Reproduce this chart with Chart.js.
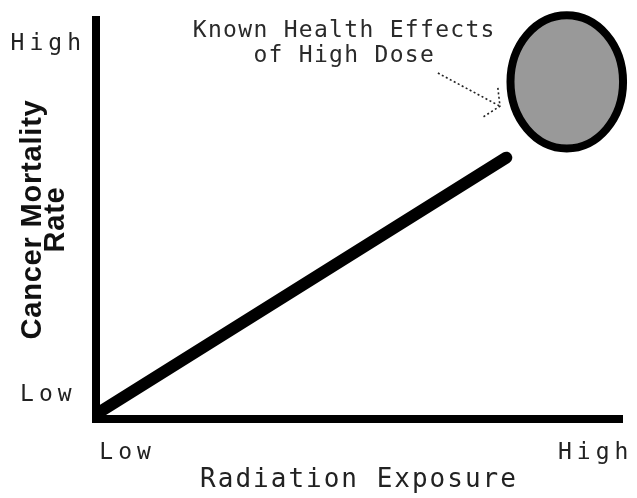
<!DOCTYPE html>
<html>
<head>
<meta charset="utf-8">
<script src="https://cdn.jsdelivr.net/npm/chart.js@4"></script>
<style>
  html, body { margin: 0; padding: 0; background: #fff; }
  canvas { display: block; }
</style>
</head>
<body>
<canvas id="chart" width="637" height="498"></canvas>
<script>
// exposure vs mortality, relative units 0..100
const exposure = [1, 78];
const mortality = [2, 65.5];

// high dose region: centre and half-spread
const highDoseCenter = [89.5, 84.5];
const highDoseSpread = [10.7, 16.7];

const xTickValues = [6, 95];
const xTickLabels = ['Low', 'High'];
const yTickValues = [6, 94];
const yTickLabels = ['Low', 'High'];

const noteLines = ['Known Health Effects', 'of High Dose'];
const noteAnchor = [47.2, 97.3];
const notePointer = [[65, 86.7], [76.8, 78.4]];
const noteHead = [[76.4, 83], [76.8, 78.4], [73.6, 75.7]];

const mono = 'DejaVu Sans Mono';

// the old figure uses wide letter spacing, canvas can do that
const spacing = {
  id: 'spacing',
  beforeDraw(chart) {
    chart.ctx.letterSpacing = '0.8px'; // y title
  },
  afterDraw(chart) {
    chart.ctx.letterSpacing = '0px';
  }
};

const overlay = {
  id: 'overlay',
  afterDatasetsDraw(chart) {
    const { ctx, scales: { x, y } } = chart;
    ctx.save();

    // high dose ellipse
    const cx = x.getPixelForValue(highDoseCenter[0]);
    const cy = y.getPixelForValue(highDoseCenter[1]);
    const rx = x.getPixelForValue(highDoseCenter[0] + highDoseSpread[0]) - cx;
    const ry = cy - y.getPixelForValue(highDoseCenter[1] + highDoseSpread[1]);
    ctx.beginPath();
    ctx.ellipse(cx, cy, rx, ry, 0, 0, Math.PI * 2);
    ctx.fillStyle = '#999999';
    ctx.fill();
    ctx.lineWidth = 8;
    ctx.strokeStyle = '#000';
    ctx.stroke();

    // dotted pointer
    ctx.setLineDash([2, 2.5]);
    ctx.lineWidth = 1.6;
    ctx.strokeStyle = '#222';
    ctx.beginPath();
    ctx.moveTo(x.getPixelForValue(notePointer[0][0]), y.getPixelForValue(notePointer[0][1]));
    ctx.lineTo(x.getPixelForValue(notePointer[1][0]), y.getPixelForValue(notePointer[1][1]));
    ctx.stroke();
    ctx.beginPath();
    noteHead.forEach((p, i) => {
      const px = x.getPixelForValue(p[0]), py = y.getPixelForValue(p[1]);
      if (i === 0) ctx.moveTo(px, py); else ctx.lineTo(px, py);
    });
    ctx.stroke();
    ctx.setLineDash([]);

    // note text
    ctx.letterSpacing = '1.3px';
    ctx.fillStyle = '#2a2a2a';
    ctx.font = '23px "' + mono + '"';
    ctx.textAlign = 'center';
    ctx.textBaseline = 'middle';
    const tx = x.getPixelForValue(noteAnchor[0]);
    const ty = y.getPixelForValue(noteAnchor[1]);
    noteLines.forEach((t, i) => ctx.fillText(t, tx, ty + i * 25));
    ctx.restore();

    // x title comes next
    ctx.letterSpacing = '2px';
  }
};

// tick colour is resolved right before the labels are drawn
const tickColor = (c) => { c.chart.ctx.letterSpacing = '5px'; return '#222'; };

new Chart(document.getElementById('chart'), {
  type: 'scatter',
  data: {
    datasets: [{
      data: exposure.map((v, i) => ({ x: v, y: mortality[i] })),
      showLine: true,
      borderColor: '#000',
      borderWidth: 12,
      borderCapStyle: 'round',
      pointRadius: 0,
      clip: false
    }]
  },
  options: {
    responsive: false,
    animation: false,
    layout: { padding: { top: 20, right: 15, left: 0, bottom: 0 } },
    plugins: { legend: { display: false }, tooltip: { enabled: false } },
    scales: {
      x: {
        min: 0,
        max: 100,
        grid: { display: false, drawTicks: false, z: 1 },
        border: { display: true, color: '#000', width: 8, z: 1 },
        afterBuildTicks: (s) => { s.ticks = xTickValues.map(v => ({ value: v })); },
        afterFit: (s) => { s.height = 79; s.paddingLeft = 0; s.paddingRight = 0; },
        ticks: {
          z: 1,
          padding: 20,
          maxRotation: 0,
          color: tickColor,
          font: { family: mono, size: 23 },
          callback: (v) => xTickLabels[xTickValues.indexOf(v)]
        },
        title: {
          display: true,
          text: 'Radiation Exposure',
          color: '#222',
          font: { family: mono, size: 26, lineHeight: 1.2 },
          padding: { top: 0, bottom: 2 }
        }
      },
      y: {
        min: 0,
        max: 100,
        grid: { display: false, drawTicks: false },
        border: { display: true, color: '#000', width: 8 },
        afterBuildTicks: (s) => { s.ticks = yTickValues.map(v => ({ value: v })); },
        afterFit: (s) => { s.width = 96; s.paddingTop = 0; s.paddingBottom = 0; },
        ticks: {
          z: 1,
          padding: 20,
          crossAlign: 'center',
          color: tickColor,
          font: { family: mono, size: 23 },
          callback: (v) => yTickLabels[yTickValues.indexOf(v)]
        },
        title: {
          display: true,
          text: ['Cancer Mortality', 'Rate'],
          color: '#111',
          font: { family: 'Liberation Sans', size: 29, weight: 'bold', lineHeight: 0.78 },
          padding: { top: 22, bottom: 0 }
        }
      }
    }
  },
  plugins: [spacing, overlay]
});
</script>
</body>
</html>
